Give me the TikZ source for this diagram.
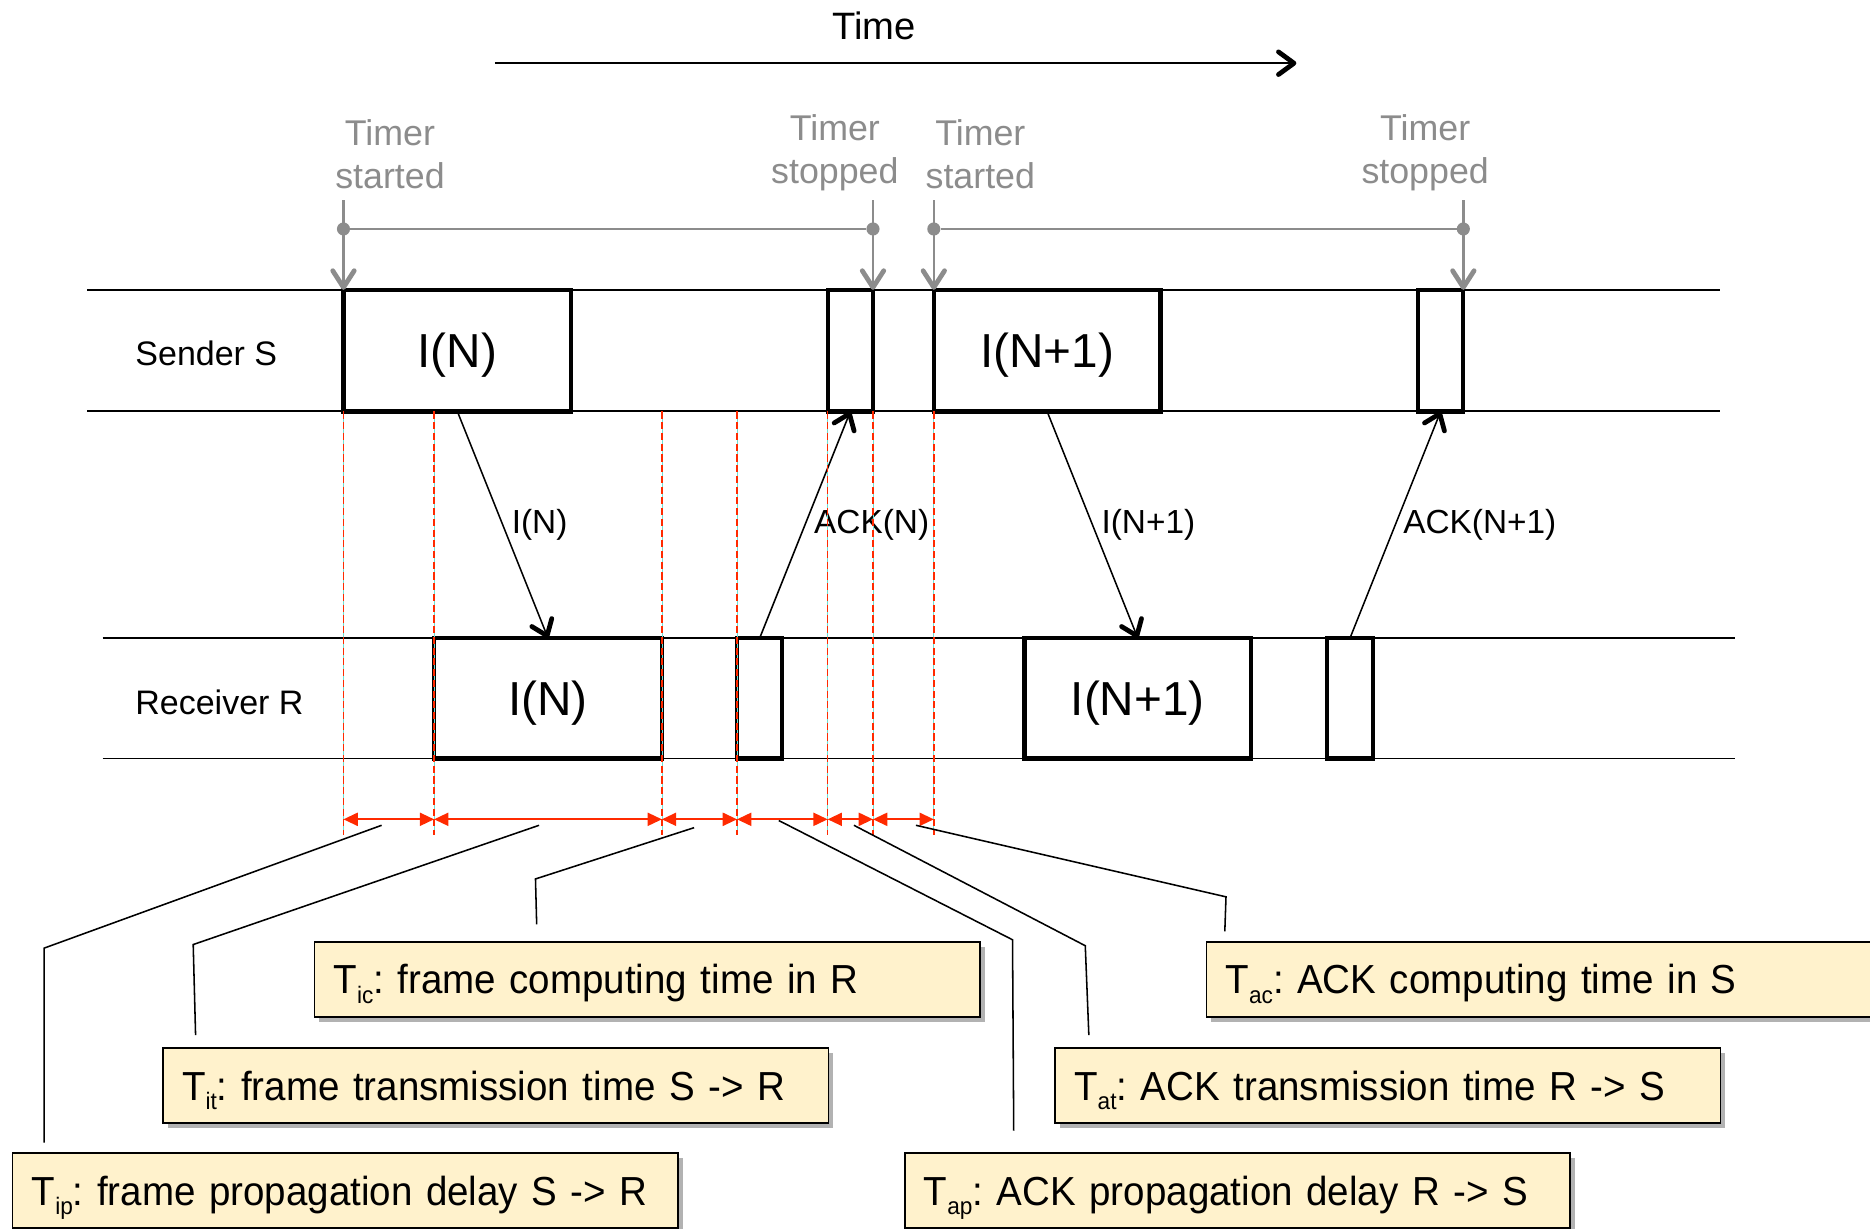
\documentclass[tikz,border=0pt]{standalone}
\usepackage{fontspec}
\setmainfont{Liberation Sans}
\newfontfamily\notefont[FakeStretch=0.95]{Liberation Sans}
\usetikzlibrary{arrows.meta,shadows,calc}
\definecolor{notefill}{RGB}{255,242,204}
\definecolor{timergray}{RGB}{140,140,140}
\definecolor{dimred}{RGB}{255,42,0}
\definecolor{guidecyan}{RGB}{110,225,210}
\newcommand{\Tsub}[1]{T\raisebox{-0.24em}{\fontsize{20}{20}\selectfont #1}}
\frenchspacing
\begin{document}
\begin{tikzpicture}[x=1pt,y=-1pt,
  lane/.style={line width=1.6pt},
  framebox/.style={draw, line width=3.5pt, inner sep=0pt, outer sep=0pt,
    minimum height=102pt, text height=28.8pt, text depth=0pt,
    font=\fontsize{40}{40}\selectfont},
  ackbox/.style={framebox, minimum width=38pt},
  lanelabel/.style={inner sep=0pt, font=\fontsize{28.5}{30}\selectfont},
  msg/.style={line width=1.3pt, -{Straight Barb[length=12pt,width=18pt,line width=4pt,round]}},
  msglabel/.style={inner sep=0pt, anchor=west, xshift=7pt, font=\fontsize{28}{30}\selectfont},
  timerline/.style={draw=timergray, line width=2pt},
  timerarrow/.style={timerline, -{Straight Barb[length=14pt,width=18pt,line width=4pt,round]}},
  timerdot/.style={circle, fill=timergray, inner sep=0pt, minimum size=11pt},
  timerlabel/.style={text=timergray, align=center, inner sep=0pt, font=\fontsize{30}{36}\selectfont},
  guide/.style={draw=dimred, line width=1.3pt, dash pattern=on 6pt off 3pt,
     preaction={draw=guidecyan, line width=0.6pt, solid}},
  dim/.style={draw=dimred, line width=1.5pt, {Triangle[length=12pt,width=11pt]}-{Triangle[length=12pt,width=11pt]}},
  callout/.style={line width=1.3pt},
  note/.style={draw, fill=notefill, line width=1.3pt, anchor=north west,
    minimum height=63pt, text width=526pt, inner xsep=16pt, inner ysep=0pt, align=left,
    text height=24.5pt, text depth=0pt,
    font=\notefont\fontsize{34}{36}\selectfont\frenchspacing,
    drop shadow={shadow xshift=4pt, shadow yshift=-4pt, fill=black, opacity=0.3}},
]
\useasboundingbox (0,0) rectangle (1568,1030);

% time axis
\node[font=\fontsize{32}{34}\selectfont, inner sep=0pt] (timelbl) at (733,22) {Time};
\coordinate (timeA) at (415,53);
\coordinate (timeB) at (1087,53);
\draw[line width=1.8pt, -{Straight Barb[length=13pt,width=19pt,line width=4pt,round]}] (timeA) -- (timeB);

% lanes
\coordinate (sTL) at (73,243);  \coordinate (sTR) at (1442,243);
\coordinate (sBL) at (73,345);  \coordinate (sBR) at (1442,345);
\coordinate (rTL) at (86,535);  \coordinate (rTR) at (1455,535);
\coordinate (rBL) at (86,636);  \coordinate (rBR) at (1455,636);
\draw[lane] (sTL) -- (sTR);
\draw[lane] (sBL) -- (sBR);
\draw[lane] (rTL) -- (rTR);
\draw[lane] (rBL) -- (rBR);

\node[lanelabel] (sender) at (173,296) {Sender S};
\node[lanelabel] (receiver) at (184,589) {Receiver R};

% frames
\node[framebox, minimum width=191pt] (sIN) at (383.5,294) {I(N)};
\node[ackbox] (sAckA) at (713,294) {};
\node[framebox, minimum width=190pt] (sIN2) at (878,294) {I(N+1)};
\node[ackbox] (sAckB) at (1208,294) {};
\node[framebox, minimum width=191pt, minimum height=101pt] (rIN) at (459.5,585.5) {I(N)};
\node[ackbox, minimum height=101pt] (rAckA) at (637,585.5) {};
\node[framebox, minimum width=190pt, minimum height=101pt] (rIN2) at (954,585.5) {I(N+1)};
\node[ackbox, minimum height=101pt] (rAckB) at (1132,585.5) {};

% messages
\draw[msg] (sIN.south) -- node[msglabel, pos=0.5] (lblIN) {I(N)} (rIN.north);
\draw[msg] (rAckA.north) -- node[msglabel, pos=0.5] (lblAckA) {ACK(N)} (sAckA.south);
\draw[msg] (sIN2.south) -- node[msglabel, pos=0.5] (lblIN2) {I(N+1)} (rIN2.north);
\draw[msg] (rAckB.north) -- node[msglabel, pos=0.5, xshift=-1pt] (lblAckB) {ACK(N+1)} (sAckB.south);

% timers
\node[timerlabel] (tlA) at (327,129) {Timer\\started};
\node[timerlabel] (tlB) at (700,128) {Timer\\stopped};
\node[timerlabel] (tlC) at (822,129) {Timer\\started};
\node[timerlabel] (tlD) at (1195,128) {Timer\\stopped};
\coordinate (tmA) at (288,168);
\coordinate (tmB) at (732,168);
\coordinate (tmC) at (783,168);
\coordinate (tmD) at (1227,168);
\draw[timerarrow] (tmA) -- (sIN.north west);
\draw[timerarrow] (tmB) -- (sAckA.north east);
\draw[timerarrow] (tmC) -- (sIN2.north west);
\draw[timerarrow] (tmD) -- (sAckB.north east);
\node[timerdot] (dotA) at (288,192) {};
\node[timerdot] (dotB) at (732,192) {};
\node[timerdot] (dotC) at (783,192) {};
\node[timerdot] (dotD) at (1227,192) {};
\draw[timerline] (dotA) -- (dotB);
\draw[timerline] (dotC) -- (dotD);

% guides and dimensions
\coordinate (guideEnd) at (0,700);
\coordinate (dimY) at (0,687);
\coordinate (g0) at (sIN.south west);
\coordinate (g1) at (rIN.north west |- sIN.south);
\coordinate (g2) at (rIN.north east |- sIN.south);
\coordinate (g3) at (rAckA.north west |- sIN.south);
\coordinate (g4) at (sAckA.south west);
\coordinate (g5) at (sAckA.south east);
\coordinate (g6) at (sIN2.south west);
\foreach \i in {0,...,6} {\draw[guide] (g\i) -- (g\i |- guideEnd);}
\foreach \i/\j in {0/1,1/2,2/3,3/4,4/5,5/6} {\draw[dim] (g\i |- dimY) -- (g\j |- dimY);}

% notes
\node[note] (tic) at (263,789) {\Tsub{ic}: frame computing time in R};
\node[note] (tit) at (136,878) {\Tsub{it}: frame transmission time S -> R};
\node[note] (tip) at (10,966) {\Tsub{ip}: frame propagation delay S -> R};
\node[note] (tac) at (1011,789) {\Tsub{ac}: ACK computing time in S};
\node[note] (tat) at (884,878) {\Tsub{at}: ACK transmission time R -> S};
\node[note] (tap) at (758,966) {\Tsub{ap}: ACK propagation delay R -> S};

% callouts
\coordinate (cA) at (320,692);
\coordinate (cB) at (452,692);
\coordinate (cC) at (582,694);
\coordinate (cD) at (653,688);
\coordinate (cE) at (716,692);
\coordinate (cF) at (768,692);
\draw[callout] (cA) -- (37,795) -- ($(tip.north west)+(27,-8)$);
\draw[callout] (cB) -- (162,792) -- ($(tit.north west)+(28,-10)$);
\draw[callout] (cC) -- (449,737) -- ($(tic.north west)+(187,-14)$);
\draw[callout] (cD) -- (849,788) -- ($(tap.north west)+(92,-18)$);
\draw[callout] (cE) -- (910,793) -- ($(tat.north west)+(29,-10)$);
\draw[callout] (cF) -- (1028,752) -- ($(tac.north west)+(16,-8)$);
\end{tikzpicture}
\end{document}
